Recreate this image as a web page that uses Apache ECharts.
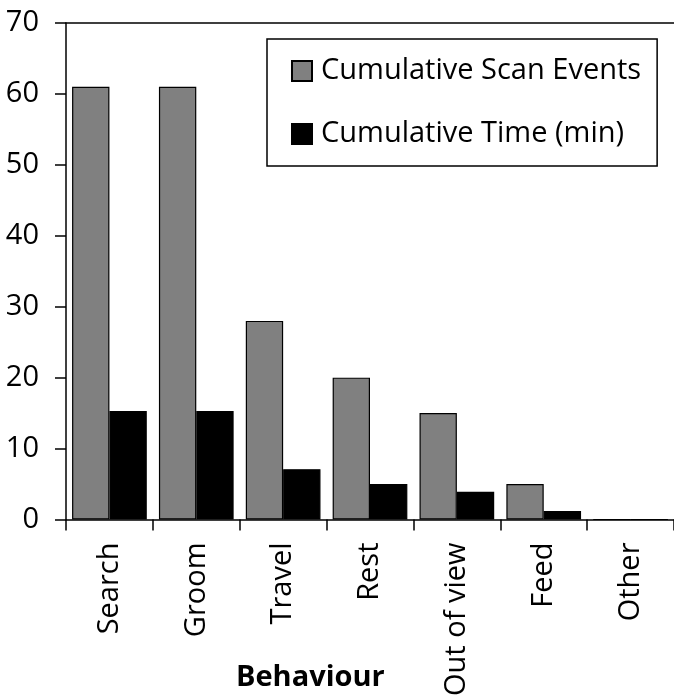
<!DOCTYPE html>
<html>
<head>
<meta charset="utf-8">
<script src="https://cdn.jsdelivr.net/npm/echarts@6/dist/echarts.min.js"></script>
<style>html,body{margin:0;padding:0;background:#fff}#chart{width:674px;height:699px}</style>
</head>
<body>
<div id="chart"></div>
<script>
var categories = ['Search', 'Groom', 'Travel', 'Rest', 'Out of view', 'Feed', 'Other'];
var scanEvents = [61, 61, 28, 20, 15, 5, 0];
var timeMin = [15.3, 15.3, 7.1, 5.0, 3.9, 1.2, 0];
var seriesNames = ['Cumulative Scan Events', 'Cumulative Time (min)'];
var xAxisTitle = 'Behaviour';

var FONT = 'Open Sans';
var chart = echarts.init(document.getElementById('chart'));
chart.setOption({
  animation: false,
  backgroundColor: '#fff',
  textStyle: { fontFamily: FONT, color: '#000' },
  title: {
    text: xAxisTitle,
    left: 236, top: 662, padding: 0,
    textStyle: { fontFamily: FONT, fontSize: 29, fontWeight: 'bold', color: '#000', lineHeight: 32 }
  },
  legend: {
    orient: 'vertical',
    left: 267, top: 39,
    padding: [17, 16, 17, 24],
    borderColor: '#000', borderWidth: 1.5,
    itemGap: 33, itemWidth: 20, itemHeight: 20,
    icon: 'rect',
    textStyle: { fontFamily: FONT, fontSize: 29, color: '#000', lineHeight: 30, padding: [0, 0, 0, 4] },
    data: seriesNames
  },
  grid: { left: 66, top: 23, right: 0, bottom: 179, containLabel: false },
  xAxis: [{
    type: 'category',
    data: categories,
    axisLine: { lineStyle: { color: '#000', width: 1.5 } },
    axisTick: { show: true, length: 11, interval: 0, lineStyle: { color: '#000', width: 1.5 } },
    axisLabel: { rotate: 90, margin: 23, fontSize: 29, fontFamily: FONT, color: '#000', interval: 0 }
  }, {
    type: 'category',
    position: 'top',
    data: categories,
    axisLine: { show: true, lineStyle: { color: '#000', width: 1.5 } },
    axisTick: { show: false },
    axisLabel: { show: false }
  }],
  yAxis: {
    type: 'value',
    min: 0, max: 70, interval: 10,
    splitLine: { show: false },
    axisLine: { show: true, lineStyle: { color: '#000', width: 1.5 } },
    axisTick: { show: true, length: 11, lineStyle: { color: '#000', width: 1.5 } },
    axisLabel: { margin: 27, fontSize: 29, fontFamily: FONT, color: '#000' }
  },
  series: [{
    name: seriesNames[0],
    type: 'bar',
    data: scanEvents,
    barGap: '0%',
    barCategoryGap: '14%',
    itemStyle: { color: '#808080', borderColor: '#000', borderWidth: 1.2 }
  }, {
    name: seriesNames[1],
    type: 'bar',
    data: timeMin,
    itemStyle: { color: '#000', borderColor: '#000', borderWidth: 1.2 }
  }]
});
</script>
</body>
</html>
